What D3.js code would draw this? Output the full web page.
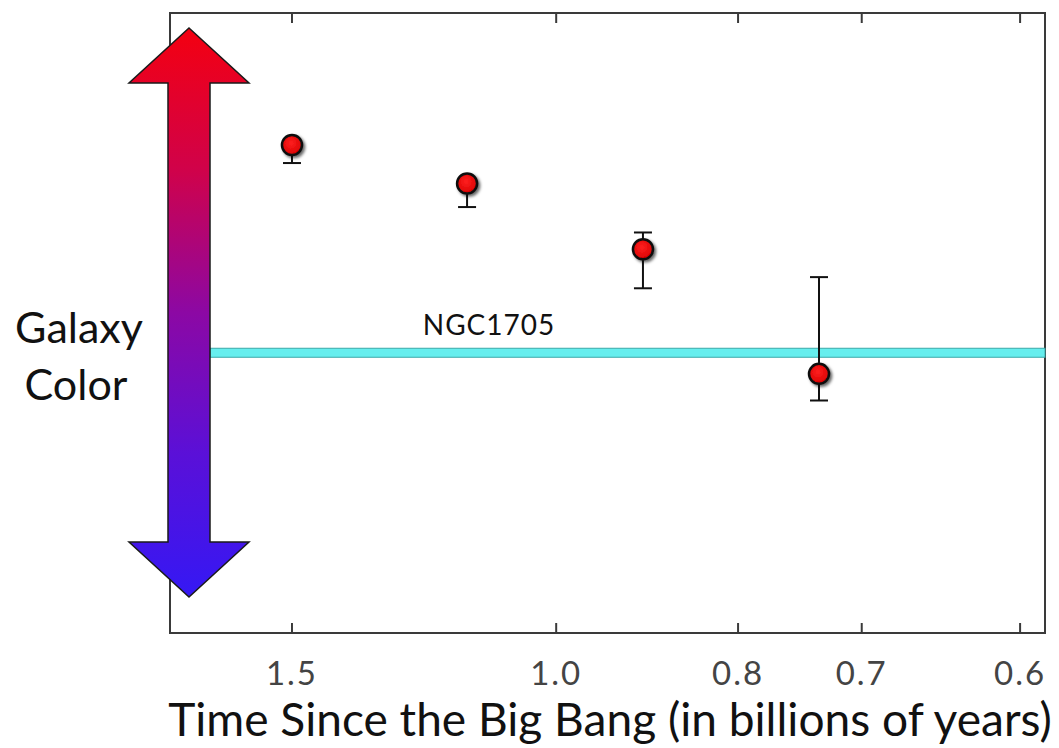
<!DOCTYPE html>
<meta charset='utf-8'>
<head>
    <title>Galaxy Color</title>
    <script src='https://cdn.jsdelivr.net/npm/d3@7'></script>
</head>

<style>
    body { margin: 0; background: white; }
    text { font-family: Lato, 'Open Sans', sans-serif; }
    .frame { fill: none; stroke: #3a3a3a; stroke-width: 2px; }
    .tick { stroke: #3a3a3a; stroke-width: 2px; }
    .err { stroke: #111; stroke-width: 2px; }
</style>

<svg></svg>

<script>
    var vWidth = 1059;
    var vHeight = 748;

    // data: time since big bang (Gyr), colour in arbitrary units
    var times = [1.50, 1.132, 0.895, 0.732];
    var colors = [7.87, 7.25, 6.19, 4.18];
    var errLow = [7.58, 6.87, 5.56, 3.75];
    var errHigh = [7.95, 7.33, 6.46, 5.74];
    var tickValues = [1.5, 1.0, 0.8, 0.7, 0.6];
    var tickLabels = ['1.5', '1.0', '0.8', '0.7', '0.6'];
    var refName = 'NGC1705';
    var refColor = 4.52;

    var pLeft = 170, pRight = 1045, pTop = 13, pBottom = 633;

    var svg = d3.select('svg').attr('width', vWidth).attr('height', vHeight);
    var defs = svg.append('defs');

    // redshift-like axis
    var x = d3.scalePow().exponent(-0.72).domain([1.90, 0.5865]).range([pLeft, pRight]);
    var y = d3.scaleLinear().domain([0, 10]).range([pBottom, pTop]);

    var grad = defs.append('linearGradient').attr('id', 'arrowGrad')
        .attr('x1', 0).attr('y1', 0).attr('x2', 0).attr('y2', 1);
    grad.append('stop').attr('offset', '0%').attr('stop-color', '#f40010');
    grad.append('stop').attr('offset', '25%').attr('stop-color', '#d0024a');
    grad.append('stop').attr('offset', '50%').attr('stop-color', '#8c08a4');
    grad.append('stop').attr('offset', '75%').attr('stop-color', '#5a10d8');
    grad.append('stop').attr('offset', '100%').attr('stop-color', '#3518f4');

    var dotGrad = defs.append('radialGradient').attr('id', 'dotGrad')
        .attr('cx', '45%').attr('cy', '40%').attr('r', '60%');
    dotGrad.append('stop').attr('offset', '0%').attr('stop-color', '#ff2020');
    dotGrad.append('stop').attr('offset', '100%').attr('stop-color', '#d80000');

    var shadow = defs.append('filter').attr('id', 'shadow')
        .attr('x', '-50%').attr('y', '-50%').attr('width', '200%').attr('height', '200%');
    shadow.append('feDropShadow').attr('dx', 2).attr('dy', 2)
        .attr('stdDeviation', 1.5).attr('flood-color', '#000').attr('flood-opacity', 0.6);

    // frame with inward ticks top and bottom
    svg.append('rect').attr('class', 'frame')
        .attr('x', pLeft).attr('y', pTop).attr('width', pRight - pLeft).attr('height', pBottom - pTop);

    svg.append('g').selectAll('line').data(tickValues).enter().append('line')
        .attr('class', 'tick')
        .attr('x1', function(d) { return x(d); }).attr('x2', function(d) { return x(d); })
        .attr('y1', pBottom).attr('y2', pBottom - 10);
    svg.append('g').selectAll('line').data(tickValues).enter().append('line')
        .attr('class', 'tick')
        .attr('x1', function(d) { return x(d); }).attr('x2', function(d) { return x(d); })
        .attr('y1', pTop).attr('y2', pTop + 10);

    svg.append('g').selectAll('text').data(tickValues).enter().append('text')
        .attr('x', function(d) { return x(d); }).attr('y', 685)
        .attr('text-anchor', 'middle')
        .attr('fill', '#444').attr('font-size', 33).attr('letter-spacing', 2)
        .text(function(d, i) { return tickLabels[i]; });

    var title = svg.append('text').attr('x', (168 + 1052) / 2).attr('y', 736)
        .attr('text-anchor', 'middle').attr('fill', '#111').attr('font-size', 44)
        .text('Time Since the Big Bang (in billions of years)');
    var tw = title.node().getComputedTextLength();
    title.attr('font-size', 44 * 884 / tw);

    // reference band
    var ax = 189;
    svg.append('rect')
        .attr('x', ax + 21).attr('y', y(refColor) - 4.5)
        .attr('width', pRight - ax - 21).attr('height', 9)
        .attr('fill', '#66eeee').attr('stroke', '#3aa9a9').attr('stroke-width', 1);
    svg.append('text').attr('x', 489).attr('y', 335)
        .attr('text-anchor', 'middle').attr('fill', '#111').attr('font-size', 28)
        .attr('letter-spacing', 1)
        .text(refName);

    // colour arrow
    var arrow = [
        [ax, 28], [ax + 60, 83], [ax + 21, 83], [ax + 21, 542], [ax + 60, 542],
        [ax, 597], [ax - 60, 542], [ax - 21, 542], [ax - 21, 83], [ax - 60, 83]
    ];
    svg.append('path')
        .attr('d', d3.line()(arrow) + 'Z')
        .attr('fill', 'url(#arrowGrad)')
        .attr('stroke', '#1a1a1a').attr('stroke-width', 1.5)
        .attr('stroke-linejoin', 'miter');

    svg.append('text').attr('x', 79).attr('y', 343)
        .attr('text-anchor', 'middle').attr('fill', '#111').attr('font-size', 43)
        .text('Galaxy');
    svg.append('text').attr('x', 76).attr('y', 400)
        .attr('text-anchor', 'middle').attr('fill', '#111').attr('font-size', 43)
        .text('Color');

    // error bars
    var eb = svg.append('g');
    times.forEach(function(t, i) {
        var cx = x(t);
        eb.append('line').attr('class', 'err')
            .attr('x1', cx).attr('x2', cx).attr('y1', y(errLow[i])).attr('y2', y(errHigh[i]));
        eb.append('line').attr('class', 'err')
            .attr('x1', cx - 9).attr('x2', cx + 9).attr('y1', y(errLow[i])).attr('y2', y(errLow[i]));
        eb.append('line').attr('class', 'err')
            .attr('x1', cx - 9).attr('x2', cx + 9).attr('y1', y(errHigh[i])).attr('y2', y(errHigh[i]));
    });

    svg.append('g').selectAll('circle').data(times).enter().append('circle')
        .attr('cx', function(d) { return x(d); })
        .attr('cy', function(d, i) { return y(colors[i]); })
        .attr('r', 10)
        .attr('fill', 'url(#dotGrad)')
        .attr('stroke', '#111').attr('stroke-width', 2.5)
        .attr('filter', 'url(#shadow)');
</script>
